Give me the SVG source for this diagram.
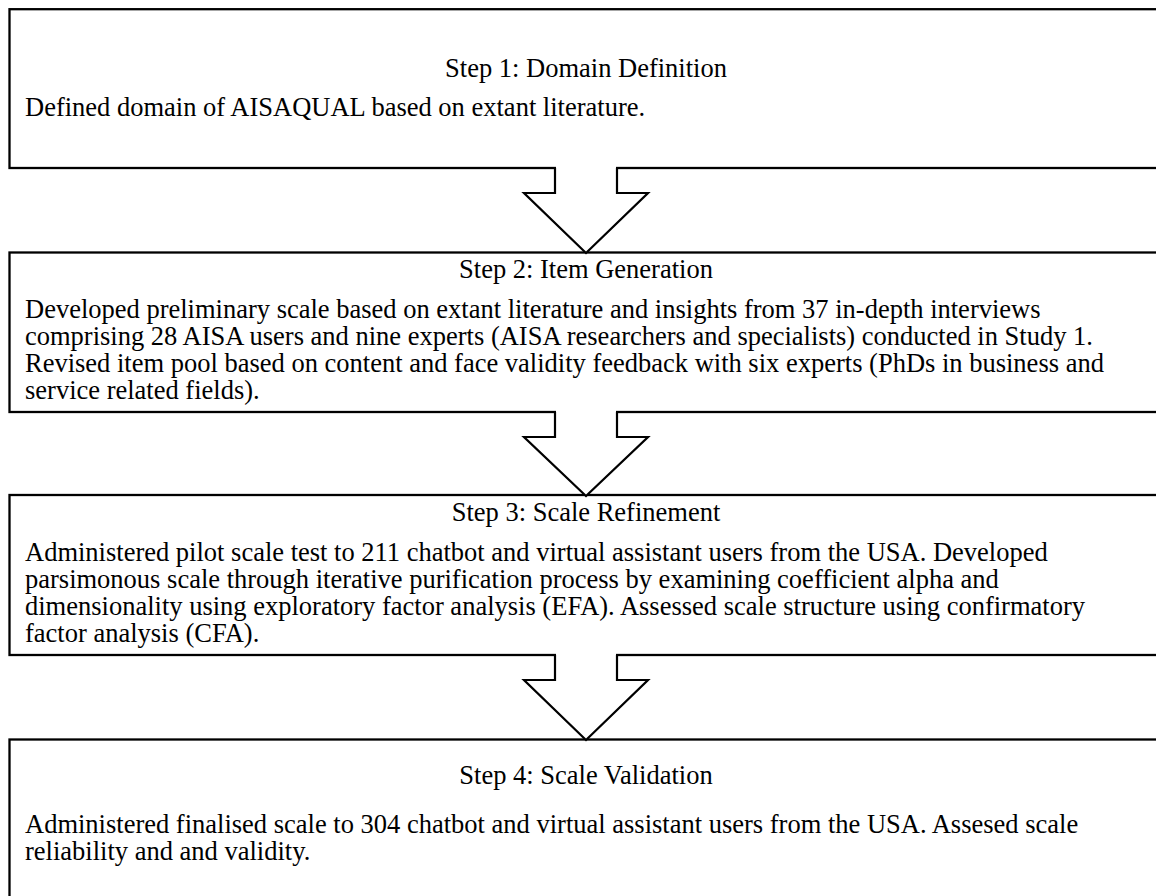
<svg xmlns="http://www.w3.org/2000/svg" width="1156" height="896" viewBox="0 0 1156 896">
<style>
.box{fill:none;stroke:#000;stroke-width:2.3}
.arr{fill:#fff;stroke:#000;stroke-width:2.2;stroke-linejoin:miter}
.gap{fill:#fff;stroke:none}
text{font-family:"Liberation Serif","Times New Roman",serif;font-size:26.5px;fill:#000}
.t{text-anchor:middle}
</style>
<rect width="1156" height="896" fill="#fff"/>
<g id="step1">
<rect class="box" x="9.5" y="9.2" width="1154" height="158.8"/>
<text class="t" x="586" y="77">Step 1: Domain Definition</text>
<text x="25" y="116">Defined domain of AISAQUAL based on extant literature.</text>
</g>
<g id="step2">
<rect class="box" x="9.5" y="252.5" width="1154" height="159.5"/>
<text class="t" x="586" y="278">Step 2: Item Generation</text>
<text x="25" y="318">Developed preliminary scale based on extant literature and insights from 37 in-depth interviews</text>
<text x="25" y="345">comprising 28 AISA users and nine experts (AISA researchers and specialists) conducted in Study 1.</text>
<text x="25" y="372">Revised item pool based on content and face validity feedback with six experts (PhDs in business and</text>
<text x="25" y="399">service related fields).</text>
</g>
<g id="step3">
<rect class="box" x="9.5" y="495" width="1154" height="160"/>
<text class="t" x="586" y="521">Step 3: Scale Refinement</text>
<text x="25" y="561">Administered pilot scale test to 211 chatbot and virtual assistant users from the USA. Developed</text>
<text x="25" y="588">parsimonous scale through iterative purification process by examining coefficient alpha and</text>
<text x="25" y="615">dimensionality using exploratory factor analysis (EFA). Assessed scale structure using confirmatory</text>
<text x="25" y="642">factor analysis (CFA).</text>
</g>
<g id="step4">
<rect class="box" x="9.5" y="739.5" width="1154" height="170"/>
<text class="t" x="586" y="784">Step 4: Scale Validation</text>
<text x="25" y="833">Administered finalised scale to 304 chatbot and virtual assistant users from the USA. Assesed scale</text>
<text x="25" y="860">reliability and and validity.</text>
</g>
<g id="connectors">
<rect class="gap" x="556" y="165" width="60" height="6"/>
<path class="arr" d="M555,168 V193 H524 L586,253 L648,193 H617 V168"/>
<rect class="gap" x="556" y="409" width="60" height="6"/>
<path class="arr" d="M555,412 V437 H524 L586,496 L648,437 H617 V412"/>
<rect class="gap" x="556" y="652" width="60" height="6"/>
<path class="arr" d="M555,655 V680 H524 L586,740 L648,680 H617 V655"/>
</g>
</svg>
